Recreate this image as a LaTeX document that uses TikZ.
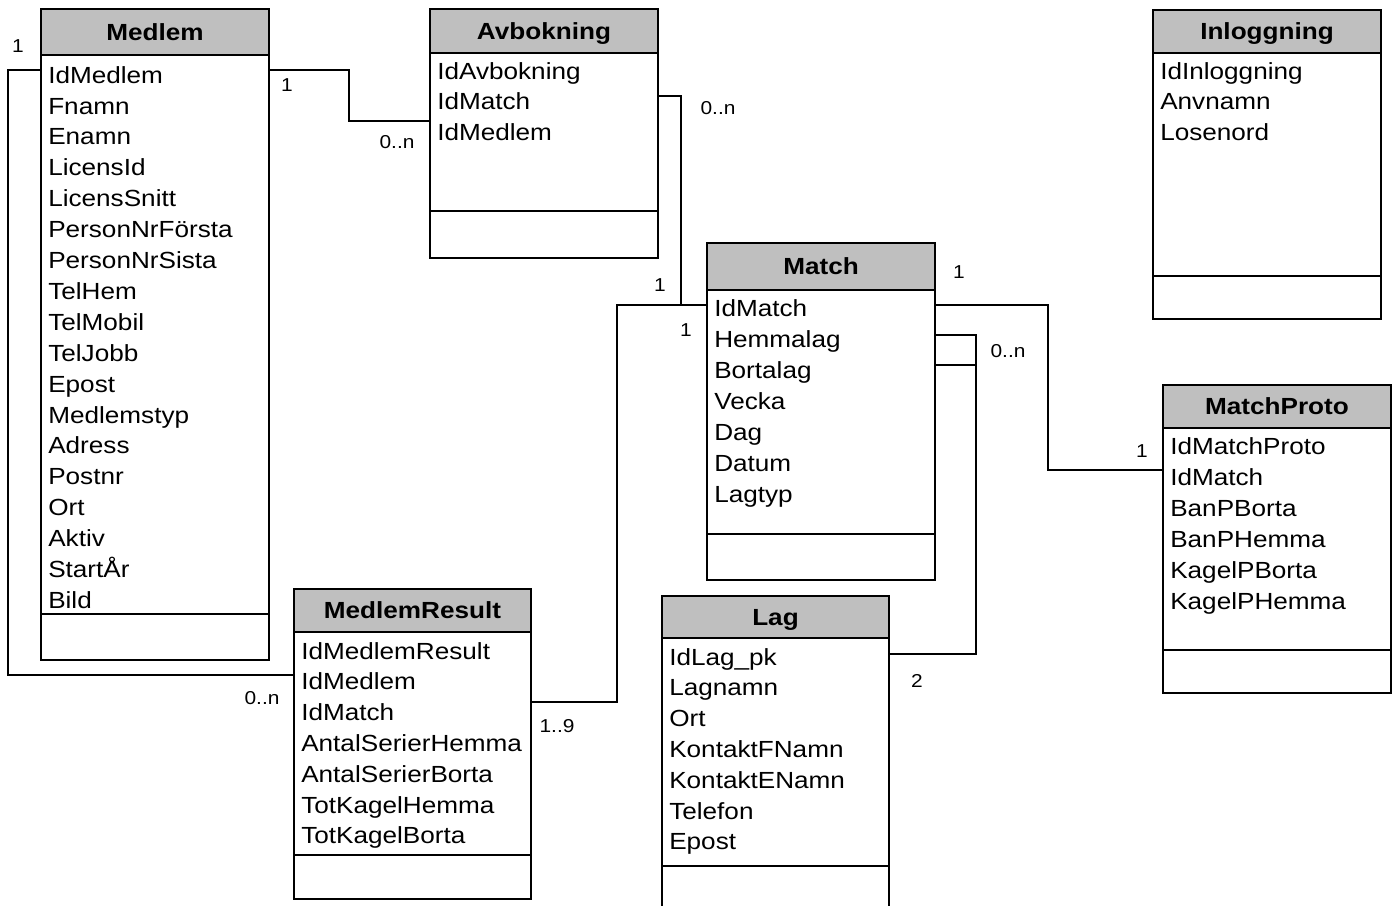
\documentclass[tikz,border=0pt]{standalone}
\usepackage{fontspec}
\setmainfont{Liberation Sans}[FakeStretch=1.12]
\usetikzlibrary{fit}
\tikzset{
  clsbox/.style={draw=black, line width=1.2pt, inner sep=0pt},
  hdrbox/.style={fill=black!25, draw=none, inner sep=0pt},
  hdrline/.style={line width=1.6pt},
  sepline/.style={line width=1.2pt},
  ttl/.style={font=\fontsize{17.5pt}{19pt}\selectfont\bfseries, inner sep=0pt, anchor=mid, yshift=-3.5pt},
  fld/.style={font=\fontsize{17.5pt}{19pt}\selectfont, inner sep=0pt, anchor=mid west, yshift=-3.5pt},
  card/.style={font=\fontsize{14pt}{16pt}\selectfont, inner sep=0pt, anchor=mid, yshift=-2pt},
  conn/.style={line width=1pt}
}
\newcommand\ClassBox[8]{%
  \node[hdrbox, fit={(#2,#3) (#4,#6)}] (#1h) {};
  \node[clsbox, fit={(#2,#3) (#4,#5)}] (#1) {};
  \node[ttl] (#1t) at (#1h.center) {#8};
  \draw[sepline] (#2,#7) -- (#4,#7);
  \draw[hdrline] (#2,#6) -- (#4,#6);
}
\begin{document}
\begin{tikzpicture}[x=0.75pt,y=-0.75pt]
\useasboundingbox (0,0) rectangle (1399,906);
\clip (0,0) rectangle (1399,906);
\fill[white] (0,0) rectangle (1399,906);

% classes
\ClassBox{med}{41}{9}{269}{660}{55}{614}{Medlem}
\ClassBox{avb}{430}{9}{658}{258}{53}{211}{Avbokning}
\ClassBox{inl}{1153}{10}{1381}{319}{53}{276}{Inloggning}
\ClassBox{mat}{707}{243}{935}{580}{290}{534}{Match}
\ClassBox{mp}{1163}{385}{1391}{693}{428}{650}{MatchProto}
\ClassBox{mr}{294}{589}{531}{899}{632}{855}{MedlemResult}
\ClassBox{lag}{662}{596}{889}{920}{638}{866}{Lag}

% fields
\foreach \t [count=\i] in {IdMedlem,Fnamn,Enamn,LicensId,LicensSnitt,PersonNrFörsta,PersonNrSista,TelHem,TelMobil,TelJobb,Epost,Medlemstyp,Adress,Postnr,Ort,Aktiv,StartÅr,Bild}
  \node[fld] (med-\i) at (48,{75+30.9*(\i-1)}) {\t};
\foreach \t [count=\i] in {IdAvbokning,IdMatch,IdMedlem}
  \node[fld] (avb-\i) at (437,{71+30.6*(\i-1)}) {\t};
\foreach \t [count=\i] in {IdInloggning,Anvnamn,Losenord}
  \node[fld] (inl-\i) at (1160,{71+30.6*(\i-1)}) {\t};
\foreach \t [count=\i] in {IdMatch,Hemmalag,Bortalag,Vecka,Dag,Datum,Lagtyp}
  \node[fld] (mat-\i) at (714,{308+31*(\i-1)}) {\t};
\foreach \t [count=\i] in {IdMatchProto,IdMatch,BanPBorta,BanPHemma,KagelPBorta,KagelPHemma}
  \node[fld] (mp-\i) at (1170,{446+31*(\i-1)}) {\t};
\foreach \t [count=\i] in {IdMedlemResult,IdMedlem,IdMatch,AntalSerierHemma,AntalSerierBorta,TotKagelHemma,TotKagelBorta}
  \node[fld] (mr-\i) at (301,{651+30.8*(\i-1)}) {\t};
\foreach \t [count=\i] in {IdLag\_pk,Lagnamn,Ort,KontaktFNamn,KontaktENamn,Telefon,Epost}
  \node[fld] (lag-\i) at (669,{657+30.8*(\i-1)}) {\t};

% connectors
\draw[conn] (med.west |- 0,70) -- (8,70) |- (mr.west |- 0,675);
\draw[conn] (med.east |- 0,70) -- (349,70) |- (avb.west |- 0,121);
\draw[conn] (avb.east |- 0,96) -- (681,96) |- (mat.west |- 0,305);
\draw[conn] (mr.east |- 0,702) -- (617,702) |- (mat.west |- 0,305);
\draw[conn] (mat.east |- 0,305) -- (1048,305) |- (mp.west |- 0,470);
\draw[conn] (mat.east |- 0,335) -- (976,335) |- (lag.east |- 0,654);
\draw[conn] (mat.east |- 0,365) -- (976,365);

% cardinalities
\node[card] (l1) at (18,46) {1};
\node[card] (l2) at (262,698) {0..n};
\node[card] (l3) at (287,85) {1};
\node[card] (l4) at (397,142) {0..n};
\node[card] (l5) at (718,108) {0..n};
\node[card] (l6) at (660,285) {1};
\node[card] (l7) at (557,726) {1..9};
\node[card] (l8) at (686,330) {1};
\node[card] (l9) at (959,272) {1};
\node[card] (l10) at (1142,451) {1};
\node[card] (l11) at (1008,351) {0..n};
\node[card] (l12) at (917,681) {2};
\end{tikzpicture}
\end{document}
